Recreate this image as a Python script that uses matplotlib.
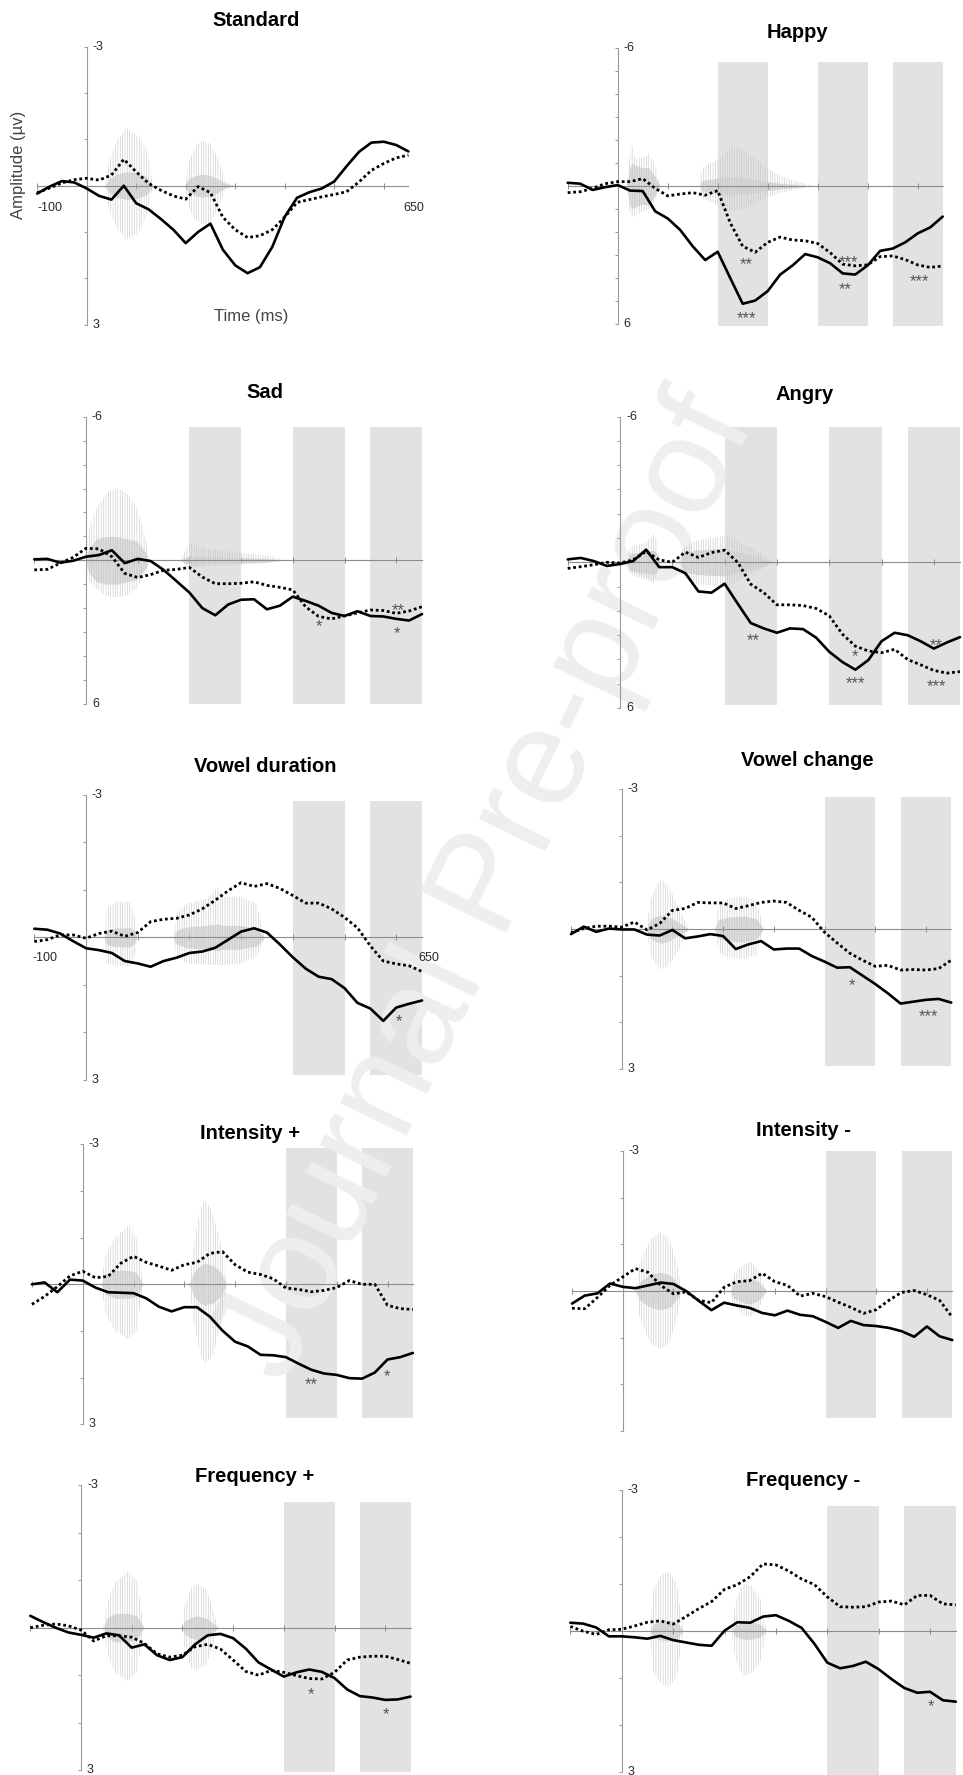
import matplotlib
matplotlib.use("Agg")
import numpy as np
import matplotlib.pyplot as plt
from matplotlib.transforms import ScaledTranslation

plt.rcParams['font.family'] = ['Liberation Sans', 'DejaVu Sans']
plt.rcParams['hatch.linewidth'] = 0.4

W, H = 963, 1775
fig = plt.figure(figsize=(W / 100, H / 100), dpi=100)

# ---------------------------------------------------------------- data
times_ms = list(range(-100, 651, 25))

# ERP amplitudes (µV), one value per 25 ms from -100 to 650 ms
standard_solid = [0.17, 0.02, -0.10, -0.07, 0.06, 0.22, 0.30, 0.00, 0.38, 0.51, 0.72, 0.95, 1.24, 1.00, 0.82, 1.38,
                  1.72, 1.89, 1.76, 1.32, 0.67, 0.26, 0.14, 0.06, -0.09, -0.42, -0.73, -0.93, -0.95, -0.88, -0.74]
standard_dotted = [0.15, 0.05, -0.06, -0.13, -0.16, -0.12, -0.23, -0.57, -0.30, -0.05, 0.10, 0.22, 0.29, 0.02, 0.15,
                   0.68, 0.95, 1.12, 1.08, 0.95, 0.68, 0.36, 0.30, 0.24, 0.19, 0.13, -0.08, -0.33, -0.48, -0.60, -0.66]

happy_solid = [-0.14, -0.10, 0.17, 0.05, -0.04, 0.20, 0.22, 1.10, 1.41, 1.91, 2.62, 3.22, 2.86, 4.00, 5.12, 4.98,
               4.57, 3.85, 3.45, 2.96, 3.10, 3.36, 3.80, 3.85, 3.45, 2.82, 2.72, 2.45, 2.06, 1.80, 1.33]
happy_dotted = [0.29, 0.25, 0.10, -0.10, -0.19, -0.19, -0.32, 0.10, 0.43, 0.35, 0.29, 0.40, 0.20, 1.60, 2.62, 2.88,
                2.45, 2.22, 2.35, 2.38, 2.50, 2.90, 3.40, 3.47, 3.43, 3.07, 3.04, 3.20, 3.43, 3.54, 3.48]

sad_solid = [-0.04, -0.06, 0.10, 0.02, -0.15, -0.22, -0.42, 0.12, -0.06, 0.03, 0.40, 0.87, 1.35, 2.00, 2.30, 1.85,
             1.65, 1.63, 2.05, 1.90, 1.52, 1.70, 1.90, 2.20, 2.33, 2.13, 2.33, 2.35, 2.45, 2.52, 2.25]
sad_dotted = [0.40, 0.38, 0.12, -0.12, -0.50, -0.48, -0.15, 0.55, 0.72, 0.60, 0.42, 0.38, 0.30, 0.70, 0.98, 0.98,
              0.96, 0.90, 1.05, 1.13, 1.24, 1.95, 2.35, 2.45, 2.33, 2.20, 2.08, 2.10, 2.22, 2.12, 1.94]

angry_solid = [-0.12, -0.18, -0.05, 0.15, 0.07, -0.05, -0.52, 0.20, 0.20, 0.45, 1.20, 1.25, 0.88, 1.70, 2.50, 2.72,
               2.90, 2.72, 2.75, 3.10, 3.68, 4.10, 4.42, 4.02, 3.25, 2.90, 3.00, 3.25, 3.55, 3.30, 3.08]
angry_dotted = [0.25, 0.18, 0.10, 0.00, 0.03, -0.10, -0.45, -0.10, 0.00, -0.42, -0.20, -0.40, -0.50, 0.00, 0.90, 1.25,
                1.75, 1.75, 1.78, 1.90, 2.20, 2.95, 3.45, 3.65, 3.72, 3.58, 4.00, 4.22, 4.45, 4.56, 4.50]

vowel_dur_solid = [-0.18, -0.16, -0.08, 0.08, 0.23, 0.27, 0.33, 0.50, 0.55, 0.62, 0.50, 0.43, 0.33, 0.30, 0.22, 0.05,
                   -0.12, -0.19, -0.10, 0.15, 0.42, 0.66, 0.83, 0.88, 1.07, 1.38, 1.50, 1.76, 1.48, 1.40, 1.33]
vowel_dur_dotted = [0.09, 0.05, -0.05, -0.05, 0.02, -0.08, -0.13, -0.02, -0.10, -0.33, -0.38, -0.40, -0.47, -0.60,
                    -0.78, -0.98, -1.15, -1.07, -1.13, -1.03, -0.88, -0.72, -0.72, -0.60, -0.42, -0.20, 0.18, 0.50,
                    0.56, 0.60, 0.72]

vowel_chg_solid = [0.11, -0.05, 0.06, -0.01, 0.01, 0.01, 0.12, 0.14, 0.02, 0.20, 0.16, 0.11, 0.15, 0.43, 0.33, 0.26,
                   0.44, 0.42, 0.42, 0.58, 0.70, 0.83, 0.82, 1.00, 1.18, 1.38, 1.60, 1.56, 1.52, 1.50, 1.58]
vowel_chg_dotted = [0.08, -0.01, -0.06, -0.06, -0.04, -0.15, 0.02, -0.12, -0.40, -0.44, -0.57, -0.56, -0.56, -0.44,
                    -0.50, -0.57, -0.60, -0.57, -0.40, -0.25, 0.07, 0.30, 0.52, 0.67, 0.80, 0.78, 0.88, 0.87, 0.88,
                    0.85, 0.67]

int_up_solid = [0.00, -0.04, 0.17, -0.10, -0.08, 0.07, 0.17, 0.18, 0.19, 0.30, 0.48, 0.58, 0.49, 0.49, 0.69, 0.99,
                1.23, 1.33, 1.51, 1.52, 1.56, 1.70, 1.83, 1.91, 1.94, 2.01, 2.02, 1.89, 1.61, 1.56, 1.47]
int_up_dotted = [0.43, 0.26, 0.05, -0.18, -0.28, -0.14, -0.17, -0.45, -0.60, -0.47, -0.39, -0.30, -0.42, -0.47, -0.66,
                 -0.70, -0.42, -0.26, -0.21, -0.12, 0.08, 0.11, 0.16, 0.13, 0.07, -0.08, 0.00, 0.00, 0.45, 0.52, 0.54]

int_down_solid = [0.27, 0.10, 0.05, -0.16, -0.09, -0.06, -0.12, -0.18, -0.15, 0.00, 0.21, 0.41, 0.25, 0.31, 0.36,
                  0.47, 0.52, 0.42, 0.51, 0.54, 0.66, 0.79, 0.64, 0.73, 0.75, 0.79, 0.86, 0.98, 0.76, 0.97, 1.05]
int_down_dotted = [0.37, 0.38, 0.14, -0.12, -0.30, -0.48, -0.40, -0.12, 0.06, 0.02, 0.20, 0.25, -0.08, -0.20, -0.22,
                   -0.38, -0.20, -0.12, 0.11, 0.05, 0.12, 0.24, 0.35, 0.48, 0.40, 0.20, 0.03, -0.01, 0.08, 0.20, 0.56]

freq_up_solid = [-0.25, -0.12, 0.00, 0.10, 0.15, 0.21, 0.12, 0.16, 0.42, 0.35, 0.58, 0.68, 0.62, 0.35, 0.16, 0.13,
                 0.22, 0.44, 0.73, 0.88, 1.03, 0.94, 0.88, 0.93, 1.06, 1.30, 1.44, 1.47, 1.52, 1.51, 1.45]
freq_up_dotted = [0.00, -0.05, -0.08, -0.04, 0.05, 0.28, 0.17, 0.17, 0.20, 0.33, 0.55, 0.62, 0.58, 0.40, 0.35, 0.45,
                  0.68, 0.92, 1.00, 0.90, 0.94, 1.01, 1.07, 1.08, 0.94, 0.68, 0.62, 0.60, 0.60, 0.67, 0.75]

freq_down_solid = [-0.17, -0.15, -0.07, 0.12, 0.12, 0.14, 0.17, 0.11, 0.20, 0.25, 0.30, 0.32, 0.00, -0.18, -0.17,
                   -0.30, -0.33, -0.21, -0.06, 0.28, 0.68, 0.80, 0.75, 0.66, 0.82, 1.03, 1.22, 1.32, 1.30, 1.48, 1.51]
freq_down_dotted = [-0.09, 0.01, 0.08, -0.02, -0.03, -0.10, -0.18, -0.21, -0.14, -0.30, -0.47, -0.62, -0.88, -0.98,
                    -1.15, -1.42, -1.40, -1.27, -1.10, -0.98, -0.72, -0.51, -0.50, -0.51, -0.61, -0.63, -0.55, -0.75,
                    -0.75, -0.57, -0.55]

# stimulus waveform envelopes (ms, upward extent, downward extent, dense core half-width)
standard_wave_t = [37, 45, 60, 80, 100, 120, 128, 134, 199, 205, 220, 235, 250, 265, 280, 300]
standard_wave_top = [0, 0.5, 0.95, 1.24, 1.1, 0.8, 0.4, 0, 0, 0.5, 0.85, 0.99, 0.9, 0.6, 0.08, 0]
standard_wave_bot = [0, 0.5, 0.9, 1.17, 1.05, 0.7, 0.3, 0, 0, 0.45, 0.75, 0.83, 0.8, 0.5, 0.08, 0]
standard_wave_core = [0, 0.15, 0.25, 0.3, 0.28, 0.2, 0.1, 0, 0, 0.15, 0.22, 0.25, 0.22, 0.15, 0.05, 0]

happy_wave_t = [18, 24, 28, 35, 50, 62, 75, 85, 163, 170, 205, 228, 258, 298, 325, 358, 390]
happy_wave_top = [0, 1.3, 1.88, 1.2, 1.2, 1.39, 0.9, 0, 0, 0.8, 1.2, 1.75, 1.5, 0.8, 0.45, 0.2, 0]
happy_wave_bot = [0, 1.2, 1.33, 1.3, 1.1, 1.0, 0.6, 0, 0, 0.55, 0.9, 1.1, 0.95, 0.5, 0.3, 0.15, 0]
happy_wave_core = [0, 0.8, 1.0, 0.9, 0.8, 0.8, 0.4, 0, 0, 0.25, 0.35, 0.4, 0.35, 0.2, 0.12, 0.06, 0]

sad_wave_t = [0, 5, 21, 40, 59, 79, 98, 117, 121, 182, 195, 205, 234, 285, 350, 382]
sad_wave_top = [0, 1.2, 2.2, 2.8, 3.04, 2.8, 2.2, 0.8, 0, 0, 0.55, 0.7, 0.5, 0.35, 0.2, 0]
sad_wave_bot = [0, 0.8, 1.2, 1.5, 1.55, 1.45, 1.2, 0.5, 0, 0, 0.25, 0.3, 0.25, 0.2, 0.12, 0]
sad_wave_core = [0, 0.5, 0.9, 1.0, 1.0, 0.9, 0.8, 0.3, 0, 0, 0.15, 0.2, 0.15, 0.12, 0.08, 0]

angry_wave_t = [13, 19, 48, 64, 70, 76, 115, 121, 146, 178, 204, 229, 261, 287, 300]
angry_wave_top = [0, 0.6, 0.8, 1.16, 0.9, 0, 0, 0.6, 0.9, 1.0, 1.1, 0.8, 0.5, 0.1, 0]
angry_wave_bot = [0, 0.5, 0.7, 0.84, 0.6, 0, 0, 0.6, 0.9, 0.95, 1.0, 0.7, 0.4, 0.1, 0]
angry_wave_core = [0, 0.35, 0.45, 0.5, 0.4, 0, 0, 0.4, 0.5, 0.55, 0.55, 0.4, 0.25, 0.06, 0]

vowel_dur_wave_t = [35, 40, 59, 85, 95, 98, 169, 175, 195, 234, 256, 266, 298, 330, 346]
vowel_dur_wave_top = [0, 0.6, 0.75, 0.75, 0.4, 0, 0, 0.5, 0.7, 0.82, 1.07, 0.85, 0.86, 0.7, 0]
vowel_dur_wave_bot = [0, 0.55, 0.6, 0.6, 0.35, 0, 0, 0.4, 0.55, 0.58, 0.58, 0.58, 0.55, 0.4, 0]
vowel_dur_wave_core = [0, 0.15, 0.2, 0.2, 0.12, 0, 0, 0.15, 0.22, 0.25, 0.28, 0.25, 0.25, 0.18, 0]

vowel_chg_wave_t = [49, 56, 69, 79, 95, 115, 132, 184, 191, 207, 240, 266, 280]
vowel_chg_wave_top = [0, 0.6, 0.95, 1.07, 0.85, 0.4, 0, 0, 0.5, 0.65, 0.7, 0.6, 0]
vowel_chg_wave_bot = [0, 0.5, 0.8, 0.87, 0.75, 0.4, 0, 0, 0.5, 0.6, 0.65, 0.55, 0]
vowel_chg_wave_core = [0, 0.2, 0.28, 0.3, 0.25, 0.12, 0, 0, 0.2, 0.25, 0.28, 0.22, 0]

int_up_wave_t = [37, 44, 64, 90, 106, 119, 210, 218, 231, 241, 257, 273, 283]
int_up_wave_top = [0, 0.6, 1.0, 1.25, 1.0, 0, 0, 0.8, 1.6, 1.82, 1.5, 0.8, 0]
int_up_wave_bot = [0, 0.6, 1.0, 1.18, 1.0, 0, 0, 0.8, 1.5, 1.7, 1.5, 0.8, 0]
int_up_wave_core = [0, 0.2, 0.3, 0.3, 0.25, 0, 0, 0.25, 0.4, 0.45, 0.4, 0.25, 0]

int_down_wave_t = [26, 34, 54, 74, 93, 109, 116, 212, 218, 238, 251, 268, 284]
int_down_wave_top = [0, 0.6, 1.1, 1.27, 1.1, 0.5, 0, 0, 0.35, 0.55, 0.64, 0.45, 0]
int_down_wave_bot = [0, 0.6, 1.1, 1.25, 1.1, 0.5, 0, 0, 0.3, 0.5, 0.56, 0.4, 0]
int_down_wave_core = [0, 0.2, 0.35, 0.4, 0.35, 0.15, 0, 0, 0.15, 0.25, 0.28, 0.2, 0]

freq_up_wave_t = [44, 51, 67, 93, 110, 124, 199, 205, 218, 228, 248, 271]
freq_up_wave_top = [0, 0.5, 0.95, 1.19, 1.0, 0, 0, 0.5, 0.85, 0.93, 0.8, 0]
freq_up_wave_bot = [0, 0.5, 0.95, 1.12, 0.95, 0, 0, 0.5, 0.85, 0.9, 0.75, 0]
freq_up_wave_core = [0, 0.2, 0.3, 0.3, 0.25, 0, 0, 0.15, 0.22, 0.25, 0.2, 0]

freq_down_wave_t = [55, 62, 78, 91, 107, 120, 214, 221, 237, 253, 269, 282]
freq_down_wave_top = [0, 0.9, 1.2, 1.26, 1.0, 0, 0, 0.6, 1.0, 0.95, 0.7, 0]
freq_down_wave_bot = [0, 0.9, 1.15, 1.2, 1.0, 0, 0, 0.6, 0.96, 0.9, 0.7, 0]
freq_down_wave_core = [0, 0.15, 0.2, 0.22, 0.18, 0, 0, 0.12, 0.18, 0.18, 0.14, 0]

# analysis windows (ms)
emotion_windows = [(200, 300), (400, 500), (550, 650)]
feature_windows = [(400, 500), (550, 650)]

# significance markers (ms, µV, label)
happy_stars = [(258, 3.22, '**'), (258, 5.54, '***'), (461, 3.12, '***'), (456, 4.30, '**'), (603, 3.94, '***')]
sad_stars = [(451, 2.57, '*'), (603, 1.91, '**'), (601, 2.85, '*')]
angry_stars = [(254, 3.00, '**'), (450, 3.67, '*'), (451, 4.77, '***'), (605, 3.23, '**'), (606, 4.90, '***')]
vowel_dur_stars = [(606, 1.66, '*')]
vowel_chg_stars = [(454, 1.11, '*'), (605, 1.78, '***')]
int_up_stars = [(449, 2.05, '**'), (599, 1.87, '*')]
freq_up_stars = [(453, 1.30, '*'), (601, 1.72, '*')]
freq_down_stars = [(601, 1.51, '*')]

# ---------------------------------------------------------------- layout
# x0/y0: pixel of (0 ms, 0 µV); sx: px per 100 ms; sy: px per µV
panels = [
    dict(title='Standard', x0=86.7, sx=49.5, y0=185.7, sy=46.3, ymax=3, tx=255.8, ty=26.0,
         solid=standard_solid, dotted=standard_dotted, windows=[], span=None, stars=[],
         wave=(standard_wave_t, standard_wave_top, standard_wave_bot, standard_wave_core), bottom_label=True),
    dict(title='Happy', x0=617.7, sx=50.0, y0=186.0, sy=23.0, ymax=6, tx=797.0, ty=38.3,
         solid=happy_solid, dotted=happy_dotted, windows=emotion_windows, span=(-5.4, 6.1), stars=happy_stars,
         wave=(happy_wave_t, happy_wave_top, happy_wave_bot, happy_wave_core), bottom_label=True),
    dict(title='Sad', x0=86.0, sx=51.7, y0=560.3, sy=23.9, ymax=6, tx=265.3, ty=398.3,
         solid=sad_solid, dotted=sad_dotted, windows=emotion_windows, span=(-5.56, 6.0), stars=sad_stars,
         wave=(sad_wave_t, sad_wave_top, sad_wave_bot, sad_wave_core), bottom_label=True),
    dict(title='Angry', x0=620.0, sx=52.3, y0=562.3, sy=24.3, ymax=6, tx=805.0, ty=400.0,
         solid=angry_solid, dotted=angry_dotted, windows=emotion_windows, span=(-5.58, 5.87), stars=angry_stars,
         wave=(angry_wave_t, angry_wave_top, angry_wave_bot, angry_wave_core), bottom_label=True),
    dict(title='Vowel duration', x0=86.0, sx=51.7, y0=937.3, sy=47.5, ymax=3, tx=265.5, ty=771.7,
         solid=vowel_dur_solid, dotted=vowel_dur_dotted, windows=feature_windows, span=(-2.88, 2.9),
         stars=vowel_dur_stars,
         wave=(vowel_dur_wave_t, vowel_dur_wave_top, vowel_dur_wave_bot, vowel_dur_wave_core), bottom_label=True),
    dict(title='Vowel change', x0=621.7, sx=50.7, y0=929.0, sy=46.6, ymax=3, tx=807.5, ty=766.0,
         solid=vowel_chg_solid, dotted=vowel_chg_dotted, windows=feature_windows, span=(-2.84, 2.94),
         stars=vowel_chg_stars,
         wave=(vowel_chg_wave_t, vowel_chg_wave_top, vowel_chg_wave_bot, vowel_chg_wave_core), bottom_label=True),
    dict(title='Intensity +', x0=82.7, sx=50.8, y0=1284.3, sy=46.7, ymax=3, tx=250.0, ty=1139.3,
         solid=int_up_solid, dotted=int_up_dotted, windows=feature_windows, span=(-2.91, 2.86), stars=int_up_stars,
         wave=(int_up_wave_t, int_up_wave_top, int_up_wave_bot, int_up_wave_core), bottom_label=True),
    dict(title='Intensity -', x0=622.7, sx=50.7, y0=1291.0, sy=46.7, ymax=3, tx=803.0, ty=1136.0,
         solid=int_down_solid, dotted=int_down_dotted, windows=feature_windows, span=(-3.0, 2.73), stars=[],
         wave=(int_down_wave_t, int_down_wave_top, int_down_wave_bot, int_down_wave_core), bottom_label=False),
    dict(title='Frequency +', x0=81.0, sx=50.7, y0=1627.7, sy=47.5, ymax=3, tx=255.0, ty=1481.7,
         solid=freq_up_solid, dotted=freq_up_dotted, windows=feature_windows, span=(-2.65, 3.03),
         stars=freq_up_stars,
         wave=(freq_up_wave_t, freq_up_wave_top, freq_up_wave_bot, freq_up_wave_core), bottom_label=True),
    dict(title='Frequency -', x0=621.7, sx=51.4, y0=1630.7, sy=47.0, ymax=3, tx=802.7, ty=1485.7,
         solid=freq_down_solid, dotted=freq_down_dotted, windows=feature_windows, span=(-2.66, 3.1),
         stars=freq_down_stars,
         wave=(freq_down_wave_t, freq_down_wave_top, freq_down_wave_bot, freq_down_wave_core), bottom_label=True),
]

RECT_COLOR = '#e2e2e2'
WAVE_COLOR = '#c4c4c4'
CORE_COLOR = '#d6d6d6'
AXIS_COLOR = '#9a9a9a'
LABEL_COLOR = '#2a2a2a'
STAR_COLOR = '#555555'


def fx(x):
    return x / W


def fy(y):
    return 1 - y / H


def make_axes(p, z):
    left = p['x0'] - p['sx']
    width = 7.5 * p['sx']
    top = p['y0'] - p['ymax'] * p['sy']
    height = 2 * p['ymax'] * p['sy']
    ax = fig.add_axes([fx(left), fy(top + height), width / W, height / H], zorder=z)
    ax.set_xlim(-100, 650)
    ax.set_ylim(p['ymax'], -p['ymax'])
    ax.patch.set_alpha(0)
    return ax


px_right = ScaledTranslation(6 / 100, 0, fig.dpi_scale_trans)
star_shift = ScaledTranslation(0, -0.57 * 12 / 72, fig.dpi_scale_trans)

for p in panels:
    # background layer: analysis windows
    bg = make_axes(p, 0)
    bg.set_axis_off()
    for (a, b) in p['windows']:
        bg.fill_between([a, b], p['span'][0], p['span'][1], color=RECT_COLOR, lw=0, clip_on=False)

    # foreground layer: axes, stimulus waveform and ERPs
    ax = make_axes(p, 2)
    ymax = p['ymax']
    for side in ('top', 'right'):
        ax.spines[side].set_visible(False)
    ax.spines['left'].set_position(('data', 0))
    ax.spines['bottom'].set_position(('data', 0))
    ax.spines['left'].set_color(AXIS_COLOR)
    ax.spines['bottom'].set_color('#8c8c8c')
    ax.spines['left'].set_linewidth(0.8)
    ax.spines['bottom'].set_linewidth(0.8)
    ax.set_yticks(range(-ymax, ymax + 1))
    ax.set_xticks(range(-100, 601, 100))
    ax.tick_params(axis='y', direction='out', length=2.5, width=0.7, color=AXIS_COLOR, labelleft=False)
    ax.tick_params(axis='x', direction='inout', length=4.5, width=0.7, color='#8c8c8c', labelbottom=False)

    wt, wtop, wbot, wcore = p['wave']
    wtop = np.asarray(wtop)
    wbot = np.asarray(wbot)
    wcore = np.asarray(wcore)
    ax.fill_between(wt, -wcore, wcore, color=CORE_COLOR, lw=0, alpha=0.85, zorder=1.5)
    ax.fill_between(wt, -wtop, wbot, facecolor='none', edgecolor=WAVE_COLOR, hatch='|' * 7, lw=0, zorder=1.6)

    ax.plot(times_ms, p['solid'], color='black', lw=1.9, solid_joinstyle='round', solid_capstyle='round',
            zorder=4, clip_on=False)
    ax.plot(times_ms, p['dotted'], color='black', lw=2.0, linestyle=(0, (1.0, 1.0)), dash_capstyle='butt',
            zorder=4, clip_on=False)

    for (t, v, s) in p['stars']:
        ax.text(t, v, s, ha='center', va='baseline', fontsize=12, color=STAR_COLOR,
                transform=ax.transData + star_shift, zorder=5)

    ax.text(0, -ymax, f'-{ymax}', ha='left', va='center', fontsize=9, color=LABEL_COLOR,
            transform=ax.transData + px_right, clip_on=False)
    if p['bottom_label']:
        ax.text(0, ymax, f'{ymax}', ha='left', va='center', fontsize=9, color=LABEL_COLOR,
                transform=ax.transData + px_right, clip_on=False)

    fig.text(fx(p['tx']), fy(p['ty']), p['title'], ha='center', va='baseline', fontsize=14.5,
             fontweight='bold', color='black', zorder=3)

# time range labels on the two left-hand panels that carry them
fig.text(fx(50.2), fy(208.3), '-100', ha='center', va='center', fontsize=9, color=LABEL_COLOR, zorder=3)
fig.text(fx(414.0), fy(208.3), '650', ha='center', va='center', fontsize=9, color=LABEL_COLOR, zorder=3)
fig.text(fx(45.0), fy(957.7), '-100', ha='center', va='center', fontsize=9, color=LABEL_COLOR, zorder=3)
fig.text(fx(429.0), fy(957.7), '650', ha='center', va='center', fontsize=9, color=LABEL_COLOR, zorder=3)

# axis titles
fig.text(fx(18.3), fy(165.0), 'Amplitude (µv)', rotation=90, ha='center', va='center', fontsize=12,
         color='#444444', zorder=3)
fig.text(fx(250.7), fy(316.7), 'Time (ms)', ha='center', va='center', fontsize=12, color='#444444', zorder=3)

# watermark, between the window shading and the traces
fig.text(fx(488), fy(888), 'Journal Pre-proof', rotation=64, rotation_mode='anchor', ha='center', va='center',
         fontsize=100, color='#eeeeee', zorder=1)

fig.savefig('out.png', dpi=100, facecolor='white')
